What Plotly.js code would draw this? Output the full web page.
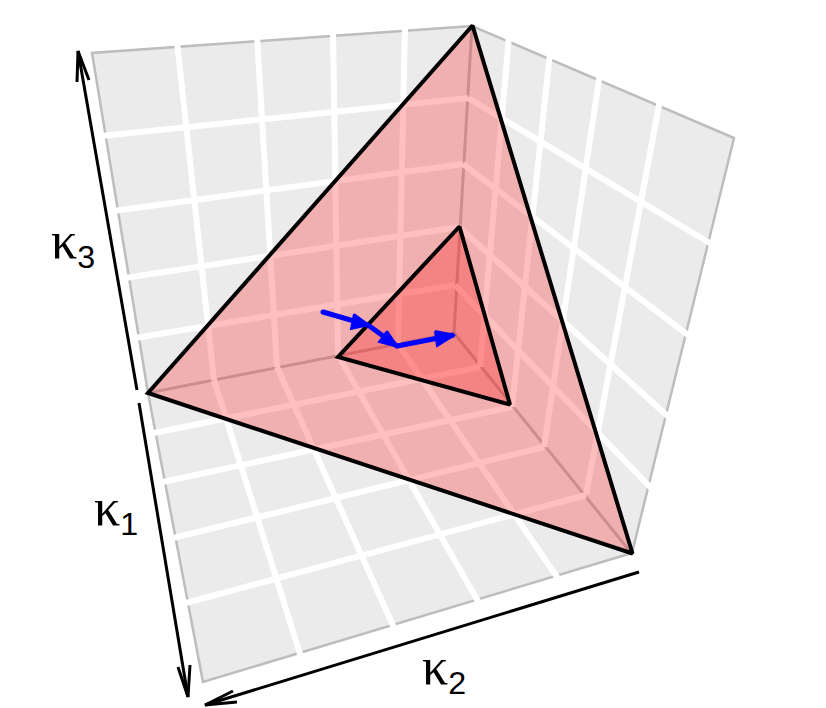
<!DOCTYPE html>
<html>
<head>
<meta charset="utf-8">
<script src="https://cdn.plot.ly/plotly-3.0.1.min.js"></script>
<style>
  html, body { margin: 0; padding: 0; background: #fff; }
</style>
</head>
<body>
<div id="chart" style="width:826px;height:708px;"></div>
<script>
// Box panels (y runs downwards)
const leftWallX = [91, 472, 454, 148, 91];
const leftWallY = [52, 25, 333, 393, 52];
const rightWallX = [472, 735, 632, 454, 472];
const rightWallY = [25, 137, 554, 333, 25];
const floorX = [148, 454, 632, 202, 148];
const floorY = [393, 333, 554, 683, 393];

// Darker box edges: outer rim, then the three inner corners
const rimX = [148, 92, 472, 734, 632, 203, 148];
const rimY = [393, 53, 26, 138, 553, 682, 393];
const cornerX = [472, 454, 148, null, 454, 632];
const cornerY = [25, 333, 393, null, 333, 554];

// White grid lines, one segment per line
const leftGridX = [177, 214, null, 257, 277, null, 333, 338, null, 405, 398, null,
  101, 468, null, 113, 463, null, 125, 459, null, 135, 455];
const leftGridY = [42, 380, null, 36, 367, null, 31, 355, null, 26, 344, null,
  136, 98, null, 211, 164, null, 278, 227, null, 338, 285];
const rightGridX = [509, 480, null, 550, 512, null, 600, 544, null, 660, 586, null,
  468, 713, null, 463, 692, null, 459, 672, null, 455, 654];
const rightGridY = [36, 367, null, 53, 407, null, 73, 447, null, 100, 495, null,
  98, 245, null, 164, 338, null, 227, 420, null, 285, 491];
const floorGridX = [214, 301, null, 277, 395, null, 338, 480, null, 398, 559, null,
  149, 480, null, 158, 512, null, 169, 544, null, 182, 586];
const floorGridY = [380, 657, null, 367, 630, null, 355, 605, null, 344, 580, null,
  434, 367, null, 483, 407, null, 539, 447, null, 604, 495];

// Red simplex triangles
const outerTriX = [472.5, 148, 632.5, 472.5];
const outerTriY = [25.5, 393, 553.5, 25.5];
const innerTriX = [459.5, 338, 510, 459.5];
const innerTriY = [226.5, 357, 404.5, 226.5];

// Blue path and its arrow heads
const pathX = [323, 368, 397, 454];
const pathY = [312, 325, 346, 335];
const headX = [354, 369, 351, 354, null, 387, 398, 379, 387, null, 435, 455, 437, 435];
const headY = [314, 325, 329, 314, null, 331, 347, 342, 331, null, 331, 335, 346, 331];

// Black axis arrows: shaft plus open head
const k3ArrowX = [137, 78, null, 77, 78, 89];
const k3ArrowY = [390, 51, null, 82, 51, 80];
const k1ArrowX = [139, 188, null, 178, 188, 190];
const k1ArrowY = [403, 697, null, 667, 697, 665];
const k2ArrowX = [639, 205, null, 233, 205, 237];
const k2ArrowY = [572, 705, null, 691, 705, 702];

const labelText = ['3', '1', '2'];
const labelX = [73, 116, 444];
const labelY = [243, 510, 669];

function panel(x, y) {
  return { x: x, y: y, type: 'scatter', mode: 'lines', fill: 'toself',
    fillcolor: '#ebebeb', line: { width: 0 }, hoverinfo: 'skip' };
}

function path(x, y, color, width) {
  return { x: x, y: y, type: 'scatter', mode: 'lines',
    line: { color: color, width: width }, hoverinfo: 'skip' };
}

function triangle(x, y) {
  return { x: x, y: y, type: 'scatter', mode: 'lines', fill: 'toself',
    fillcolor: 'rgba(255,0,0,0.25)', line: { width: 0 }, hoverinfo: 'skip' };
}

const traces = [
  panel(leftWallX, leftWallY),
  panel(rightWallX, rightWallY),
  panel(floorX, floorY),
  path(rimX, rimY, '#bdbdbd', 2.5),
  path(cornerX, cornerY, '#bdbdbd', 3),
  path(leftGridX, leftGridY, '#ffffff', 6),
  path(rightGridX, rightGridY, '#ffffff', 6),
  path(floorGridX, floorGridY, '#ffffff', 6),
  triangle(outerTriX, outerTriY),
  triangle(innerTriX, innerTriY),
  // repeat the second vertex so the apex gets a proper join
  path(outerTriX.concat(outerTriX[1]), outerTriY.concat(outerTriY[1]), '#000000', 4),
  path(innerTriX.concat(innerTriX[1]), innerTriY.concat(innerTriY[1]), '#000000', 4),
  path(pathX, pathY, '#0000ff', 5),
  { x: [pathX[0]], y: [pathY[0]], type: 'scatter', mode: 'markers',
    marker: { color: '#0000ff', size: 5 }, hoverinfo: 'skip' },
  { x: headX, y: headY, type: 'scatter', mode: 'lines', fill: 'toself',
    fillcolor: '#0000ff', line: { color: '#0000ff', width: 2 }, hoverinfo: 'skip' },
  path(k3ArrowX, k3ArrowY, '#000000', 3),
  path(k1ArrowX, k1ArrowY, '#000000', 3),
  path(k2ArrowX, k2ArrowY, '#000000', 3)
];

const layout = {
  width: 826,
  height: 708,
  margin: { l: 0, r: 0, t: 0, b: 0 },
  paper_bgcolor: '#ffffff',
  plot_bgcolor: '#ffffff',
  showlegend: false,
  xaxis: { range: [0, 826], visible: false, fixedrange: true },
  yaxis: { range: [708, 0], visible: false, fixedrange: true },
  annotations: labelText.map(function (t, i) {
    return { x: labelX[i], y: labelY[i], showarrow: false,
      text: '<span style="font-family:\'Liberation Serif\';font-size:52px">κ</span><sub>' + t + '</sub>',
      font: { family: 'Liberation Sans', size: 46, color: '#000000' } };
  })
};

Plotly.newPlot('chart', traces, layout, { displayModeBar: false, staticPlot: true });
</script>
</body>
</html>
